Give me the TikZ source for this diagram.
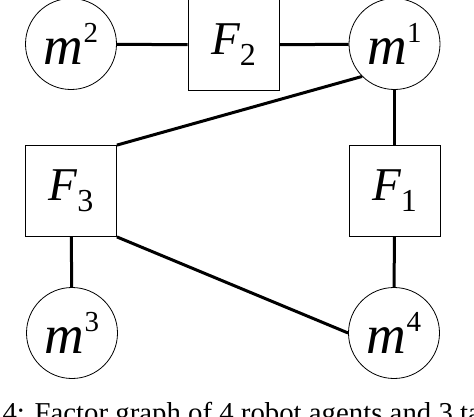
\documentclass[tikz,border=0pt]{standalone}
\usepackage{fontspec}
\setmainfont{Liberation Serif}
\usetikzlibrary{positioning}
\newcommand{\agentlabel}[1]{{\fontsize{55}{55}\selectfont\itshape m}\raisebox{22pt}{\fontsize{29}{29}\selectfont #1}}
\newcommand{\factorlabel}[1]{{\fontsize{47}{47}\selectfont\itshape F}\raisebox{-11pt}{\fontsize{32}{32}\selectfont #1}}

\begin{document}
\begin{tikzpicture}[x=1pt,y=-1pt,
  agent/.style={draw,circle,line width=0.8pt,minimum size=91pt,inner sep=0pt},
  factor/.style={draw,rectangle,line width=0.8pt,minimum size=91pt,inner sep=0pt},
  link/.style={line width=3pt}]
  \clip (0,0) rectangle (474,416);
  % agents
  \node[agent] (m2) at (71,44) {\agentlabel{2}};
  \node[agent] (m1) at (394.5,44) {\agentlabel{1}};
  \node[agent] (m3) at (72,333) {\agentlabel{3}};
  \node[agent] (m4) at (394,333) {\agentlabel{4}};
  % factors
  \node[factor] (F2) at (233.5,45) {\factorlabel{2}};
  \node[factor] (F3) at (71,191) {\factorlabel{3}};
  \node[factor] (F1) at (394.5,191) {\factorlabel{1}};
  % edges
  \draw[link] (m2) -- (F2);
  \draw[link] (F2) -- (m1);
  \draw[link] (m1) -- (F1);
  \draw[link] (F1) -- (m4);
  \draw[link] (F3) -- (m3);
  \draw[link] (F3.north east) -- (m1.south west);
  \draw[link] (F3.south east) -- (m4.west);
  % caption, cut by the page
  \node[anchor=base west,inner sep=0pt,font=\fontsize{28.8}{30}\selectfont] (caption) at (2.4,422) {4: Factor graph of 4 robot agents and 3 ta};
\end{tikzpicture}
\end{document}
